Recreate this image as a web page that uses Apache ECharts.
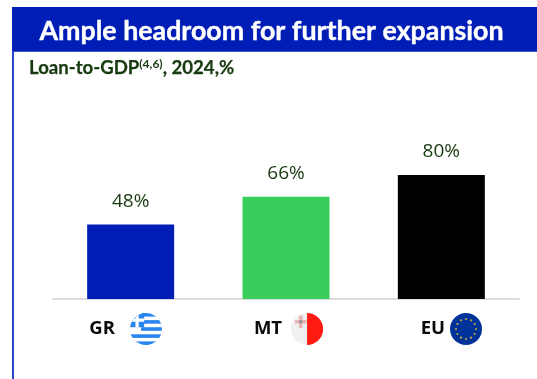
<!DOCTYPE html>
<html>
<head>
<meta charset="utf-8">
<style>html,body{margin:0;padding:0;background:#fff}#chart{width:537px;height:379px}</style>
<script src="https://cdn.jsdelivr.net/npm/echarts@6/dist/echarts.min.js"></script>
</head>
<body>
<div id="chart"></div>
<script>
const categories = ['GR', 'MT', 'EU'];
const loanToGdp = [48, 66, 80];
const barColors = ['#001db5', '#39cd5c', '#000000'];
const headline = 'Ample headroom for further expansion';
const FONT = 'Lato, "Open Sans", sans-serif';
const LABEL_FONT = '"Open Sans", "Noto Sans", sans-serif';

// Round flag badges, drawn as inline SVG images
function svgUri(body) {
  return 'data:image/svg+xml;utf8,' + encodeURIComponent(
    '<svg xmlns="http://www.w3.org/2000/svg" width="128" height="128" viewBox="0 0 32 32">' +
    '<defs><clipPath id="c"><circle cx="16" cy="16" r="16"/></clipPath></defs>' +
    '<g clip-path="url(#c)">' + body + '</g></svg>');
}
function greeceFlag() {
  let s = '<rect width="32" height="32" fill="#fff"/>';
  [0, 7.1, 14.2, 21.3, 28.4].forEach(function (y, i) {
    const x = i < 3 ? 11 : 0;
    s += '<rect x="' + x + '" y="' + y + '" width="' + (32 - x) + '" height="3.6" fill="#2a86ee"/>';
  });
  s += '<rect x="0" y="0" width="14.2" height="14.2" fill="#2a86ee"/>';
  s += '<rect x="5.5" y="0" width="3.2" height="14.2" fill="#fff"/><rect x="0" y="5.5" width="14.2" height="3.2" fill="#fff"/>';
  return svgUri(s);
}
function maltaFlag() {
  return svgUri('<rect width="32" height="32" fill="#f0f0f0"/><rect x="16" width="16" height="32" fill="#ff1a12"/>' +
    '<rect x="8" y="2.5" width="3.5" height="12.5" fill="#e8b4b4"/><rect x="4" y="7" width="11.5" height="3.5" fill="#e8b4b4"/>' +
    '<rect x="8.2" y="7.2" width="3" height="3" fill="#8f8f8f"/>');
}
function euFlag() {
  let s = '<rect width="32" height="32" fill="#003399"/>';
  for (let i = 0; i < 12; i++) {
    const a = i * Math.PI / 6;
    s += '<circle cx="' + (16 + 10 * Math.sin(a)).toFixed(2) + '" cy="' + (16 - 10 * Math.cos(a)).toFixed(2) + '" r="1.1" fill="#c0a83c"/>';
  }
  return svgUri(s);
}

const flagStyle = function (image) {
  return { width: 32, height: 32, backgroundColor: { image: image } };
};
const codeStyle = { fontFamily: LABEL_FONT, fontWeight: 700, fontSize: 18.5, color: '#0a0a0a' };

const chart = echarts.init(document.getElementById('chart'), null, { renderer: 'canvas' });
chart.setOption({
  animation: false,
  backgroundColor: '#ffffff',
  graphic: [
    { type: 'rect', z: 0, shape: { x: 12, y: 51, width: 2, height: 328 }, style: { fill: '#2a45cc' } },
    { type: 'rect', z: 0, shape: { x: 12, y: 7, width: 525, height: 44 }, style: { fill: '#001db5' } },
    { type: 'rect', z: 0, shape: { x: 14, y: 51, width: 523, height: 1 }, style: { fill: '#3a55d0' } }
  ],
  title: [
    {
      text: headline, left: 271.5, top: 31, textAlign: 'center', textVerticalAlign: 'middle', z: 5, padding: 0,
      textStyle: { fontFamily: FONT, fontWeight: 700, fontSize: 26.8, color: '#ffffff', textBorderColor: '#ffffff', textBorderWidth: 0.4 }
    },
    {
      text: '{b|Loan-to-GDP}{s|(4,6)}{b|, 2024,%}', left: 29, top: 58, z: 5, padding: 0,
      textStyle: {
        rich: {
          b: { fontFamily: FONT, fontWeight: 700, fontSize: 18.6, color: '#173a10', textBorderColor: '#173a10', textBorderWidth: 0.25 },
          s: { fontFamily: FONT, fontWeight: 700, fontSize: 12, color: '#173a10', padding: [0, 0, 8, 0] }
        }
      }
    }
  ],
  grid: { left: 53, width: 466, top: 144, height: 155 },
  xAxis: {
    type: 'category',
    data: categories,
    axisTick: { show: false },
    axisLine: { lineStyle: { color: '#dcdcdc', width: 2 } },
    axisLabel: {
      margin: 14,
      interval: 0,
      formatter: function (v) {
        return '{pad' + v + '|}{code|' + v + '}{gap' + v + '|}{' + v + '|}{tail' + v + '|}';
      },
      rich: {
        code: codeStyle,
        padGR: { width: 0 }, padMT: { width: 5 }, padEU: { width: 20 },
        gapGR: { width: 15 }, gapMT: { width: 9 }, gapEU: { width: 5 },
        tailGR: { width: 10 }, tailMT: { width: 0 }, tailEU: { width: 0 },
        GR: flagStyle(greeceFlag()),
        MT: flagStyle(maltaFlag()),
        EU: flagStyle(euFlag())
      }
    }
  },
  yAxis: { type: 'value', min: 0, max: 100, show: false },
  series: [{
    type: 'bar',
    barWidth: 87,
    data: loanToGdp.map(function (v, i) {
      return { value: v, itemStyle: { color: barColors[i] } };
    }),
    label: {
      show: true, position: 'top', distance: 14,
      formatter: '{c}%',
      fontFamily: LABEL_FONT, fontSize: 19, color: '#173a10'
    }
  }]
});
</script>
</body>
</html>
